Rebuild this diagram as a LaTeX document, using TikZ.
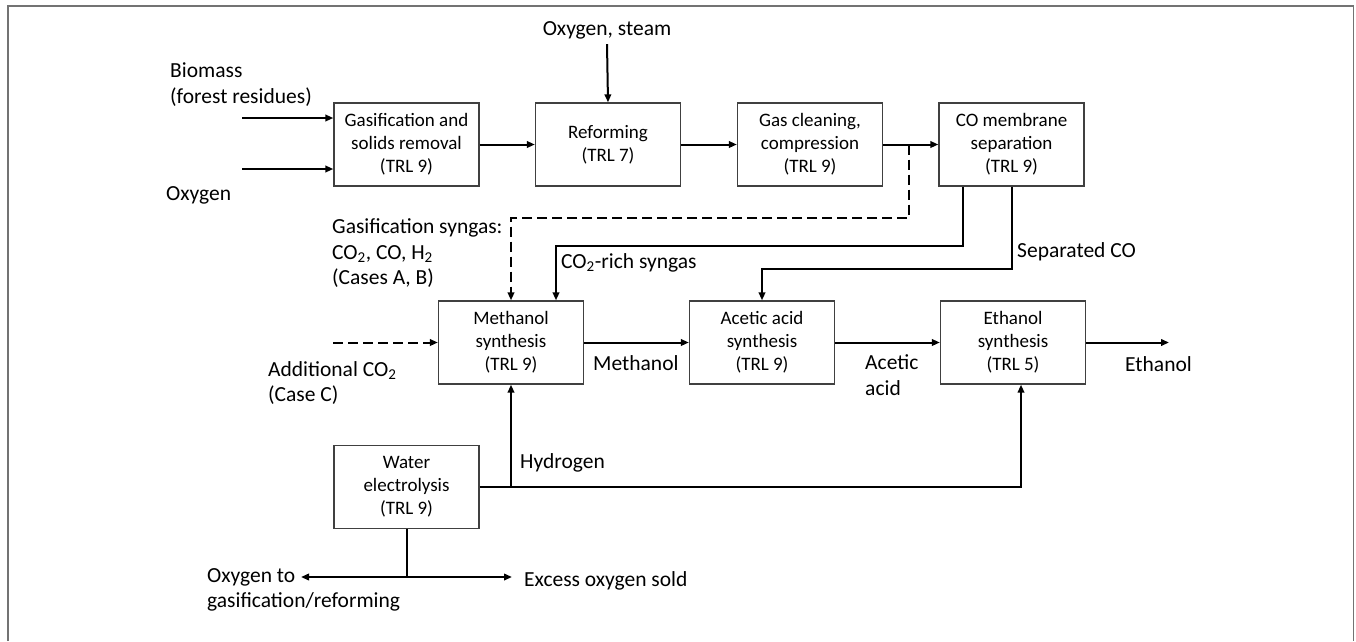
\documentclass[tikz,border=0pt]{standalone}
\usepackage{fontspec}
\setmainfont{Carlito}
\usetikzlibrary{arrows.meta}

\begin{document}
\begin{tikzpicture}[x=1pt, y=-1pt,
	box/.style={draw=black!75, line width=1.3pt, minimum width=145pt, minimum height=83pt, align=center, inner sep=2pt, font=\fontsize{19}{23}\selectfont},
	lbl/.style={anchor=west, align=left, inner sep=0pt, font=\fontsize{21.5}{25.5}\selectfont},
	arr/.style={line width=2pt, -{Triangle[length=8pt,width=6.5pt]}},
	dash5/.style={dash pattern=on 10pt off 5pt}]
	\useasboundingbox (0,0) rectangle (1356,641);
	\draw[black!55, line width=1.6pt] (8,641) -- (8,6) -- (1353.5,6) -- (1353.5,641);
	% process boxes
	\node[box] (gasif) at (406.5,144.5) {Gasification and\\solids removal\\(TRL 9)};
	\node[box] (reform) at (608,144.5) {Reforming\\(TRL 7)};
	\node[box] (clean) at (810,144.5) {Gas cleaning,\\compression\\(TRL 9)};
	\node[box] (memb) at (1011.5,144.5) {CO membrane\\separation\\(TRL 9)};
	\node[box] (meth) at (511,342.5) {Methanol\\synthesis\\(TRL 9)};
	\node[box] (acet) at (762,342.5) {Acetic acid\\synthesis\\(TRL 9)};
	\node[box] (eth) at (1013,342.5) {Ethanol\\synthesis\\(TRL 5)};
	\node[box] (water) at (406.5,487) {Water\\electrolysis\\(TRL 9)};
	% stream labels
	\node[lbl] (bio) at (170,84.5) {Biomass\\(forest residues)};
	\node[lbl] (oxy) at (166,195) {Oxygen};
	\node[lbl, anchor=center, inner sep=5pt] (steam) at (607,30) {Oxygen, steam};
	\node[lbl] (syngas) at (332,253.5) {Gasification syngas:\\CO\textsubscript{2}, CO, H\textsubscript{2}\\(Cases A, B)};
	\node[lbl] (co2rich) at (561,263) {CO\textsubscript{2}-rich syngas};
	\node[lbl] (sepco) at (1017,252) {Separated CO};
	\node[lbl] (addco2) at (268,383) {Additional CO\textsubscript{2}\\(Case C)};
	\node[lbl] (methl) at (593,363) {Methanol};
	\node[lbl] (acetl) at (865,375) {Acetic\\acid};
	\node[lbl] (ethl) at (1125,364) {Ethanol};
	\node[lbl] (hyd) at (520,463) {Hydrogen};
	\node[lbl] (oxto) at (207,590) {Oxygen to\\gasification/reforming};
	\node[lbl] (excess) at (524,581) {Excess oxygen sold};
	% free ends
	\coordinate (bioin) at (242,118);
	\coordinate (oxyin) at (242,169);
	\coordinate (split) at (909,144.5);
	\coordinate (co2in) at (333,342.5);
	\coordinate (ethout) at (1169,342.5);
	\coordinate (ojunc) at (406.5,577);
	\coordinate (oxleft) at (301,577);
	\coordinate (oxright) at (512,577);
	% main line
	\draw[arr] (bioin) -- (bioin -| gasif.west);
	\draw[arr] (oxyin) -- (oxyin -| gasif.west);
	\draw[arr] (steam.south) -- (reform.north);
	\draw[arr] (gasif.east) -- (reform.west);
	\draw[arr] (reform.east) -- (clean.west);
	\draw[arr] (clean.east) -- (memb.west);
	\draw[arr, dash5] (split) -- ++(0,73) -| (meth.north);
	\draw[arr] ([xshift=-48.5pt]memb.south) -- ++(0,59) -| ([xshift=45pt]meth.north);
	\draw[arr] (memb.south) -- ++(0,82) -| (acet.north);
	\draw[arr, dash5] (co2in) -- (meth.west);
	\draw[arr] (meth.east) -- (acet.west);
	\draw[arr] (acet.east) -- (eth.west);
	\draw[arr] (eth.east) -- (ethout);
	% hydrogen and oxygen
	\draw[arr] (water.east) -| ([xshift=8pt]eth.south);
	\draw[arr] (meth.south |- water.east) -- (meth.south);
	\draw[line width=2pt] (water.south) -- (ojunc);
	\draw[arr] (ojunc) -- (oxleft);
	\draw[arr] (ojunc) -- (oxright);
\end{tikzpicture}
\end{document}
